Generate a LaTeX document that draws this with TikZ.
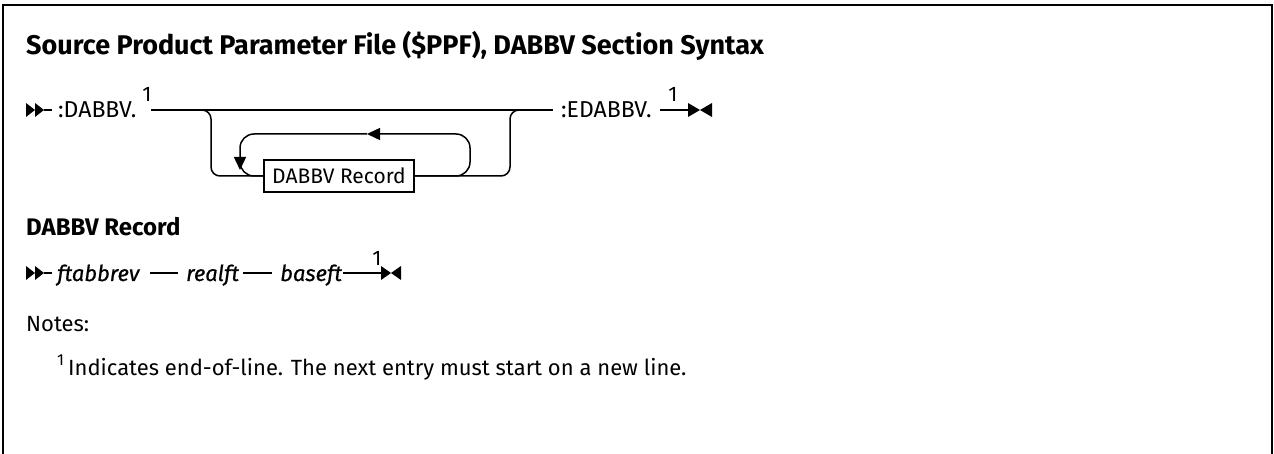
\documentclass[tikz,border=0pt]{standalone}
\usepackage{fontspec}
\setmainfont{Fira Sans}
\usetikzlibrary{arrows.meta}
\tikzset{
  rr/.style={line width=1.5pt},
  kw/.style={font=\fontsize{23}{26}\selectfont, inner sep=0pt, anchor=base west},
  var/.style={font=\addfontfeatures{FakeBold=0.6}\itshape\fontsize{22}{26}\selectfont, inner sep=0pt, anchor=base west},
  numsup/.style={font=\fontsize{21}{24}\selectfont, inner sep=0pt},
  recbox/.style={draw, line width=1.5pt, font=\fontsize{21}{24}\selectfont, minimum width=150pt, minimum height=32pt, inner sep=0pt, fill=white},
  head/.style={font=\bfseries\fontsize{27}{30}\selectfont, inner sep=0pt, anchor=base west},
  subhead/.style={font=\bfseries\fontsize{24}{28}\selectfont, inner sep=0pt, anchor=base west},
  note/.style={font=\fontsize{22}{26}\selectfont, inner sep=0pt, anchor=base west},
  arr/.style={-{Triangle[length=13pt,width=12pt]}},
}
\begin{document}
\begin{tikzpicture}[x=1pt,y=-1pt]
\useasboundingbox (0,0) rectangle (1274,454);
\draw[line width=2pt] (3,454) -- (3,5) -- (1272,5) -- (1272,454);
\node[head] (title) at (26,55) {Source Product Parameter File (\$PPF), DABBV Section Syntax};

% row 1
\fill (26,103) -- (35,110) -- (26,117) -- cycle;
\fill (35,103) -- (44,110) -- (35,117) -- cycle;
\coordinate (s1a) at (44,110);
\coordinate (s1b) at (52,110);
\draw[rr] (s1a) -- (s1b);
\node[kw] (kdab) at (58,118) {:DABBV.};
\node[numsup] (n1) at (147,94) {1};
\coordinate (m0) at (151,110);
\coordinate (m1) at (553,110);
\draw[rr] (m0) -- (m1);

\draw[rr, rounded corners=14pt, arr] (414,176) -| (470,134) -- (367,134);
\draw[rr, rounded corners=14pt, arr] (367,134) -| (240,170);
\draw[rr, rounded corners=14pt] (240,158) |- (264,176);
\draw[rr, rounded corners=9pt] (198,110) -| (211,176) -- (264,176);
\draw[rr, rounded corners=9pt] (414,176) -| (510,110) -- (522,110);
\node[recbox] (rec) at (339,176) {DABBV Record};

\node[kw] (kedab) at (561,118) {:EDABBV.};
\node[numsup] (n2) at (673,94) {1};
\coordinate (e1a) at (660,110);
\coordinate (e1b) at (690,110);
\draw[rr] (e1a) -- (e1b);
\fill (688,103) -- (700,110) -- (688,117) -- cycle;
\fill (712,103) -- (700,110) -- (712,117) -- cycle;

% row 2
\node[subhead] (h2) at (26,236) {DABBV Record};
\fill (26,266) -- (35,273) -- (26,280) -- cycle;
\fill (35,266) -- (44,273) -- (35,280) -- cycle;
\coordinate (s2a) at (44,273);
\coordinate (s2b) at (52,273);
\draw[rr] (s2a) -- (s2b);
\node[var] (v1) at (57,281) {ftabbrev};
\coordinate (d1a) at (150,273);
\coordinate (d1b) at (178,273);
\draw[rr] (d1a) -- (d1b);
\node[var] (v2) at (186,281) {realft};
\coordinate (d2a) at (243,273);
\coordinate (d2b) at (272,273);
\draw[rr] (d2a) -- (d2b);
\node[var] (v3) at (280,281) {baseft};
\coordinate (d3a) at (343,273);
\coordinate (d3b) at (382,273);
\draw[rr] (d3a) -- (d3b);
\node[numsup] (n3) at (377,258) {1};
\fill (381,266) -- (391,273) -- (381,280) -- cycle;
\fill (401,266) -- (391,273) -- (401,280) -- cycle;

\node[note] (notes) at (26,331) {Notes:};
\node[font=\fontsize{16}{18}\selectfont, inner sep=0pt, anchor=base west] (fnn) at (57,365) {1};
\node[note] (fn) at (68,375) {Indicates end-of-line. The next entry must start on a new line.};
\end{tikzpicture}
\end{document}
